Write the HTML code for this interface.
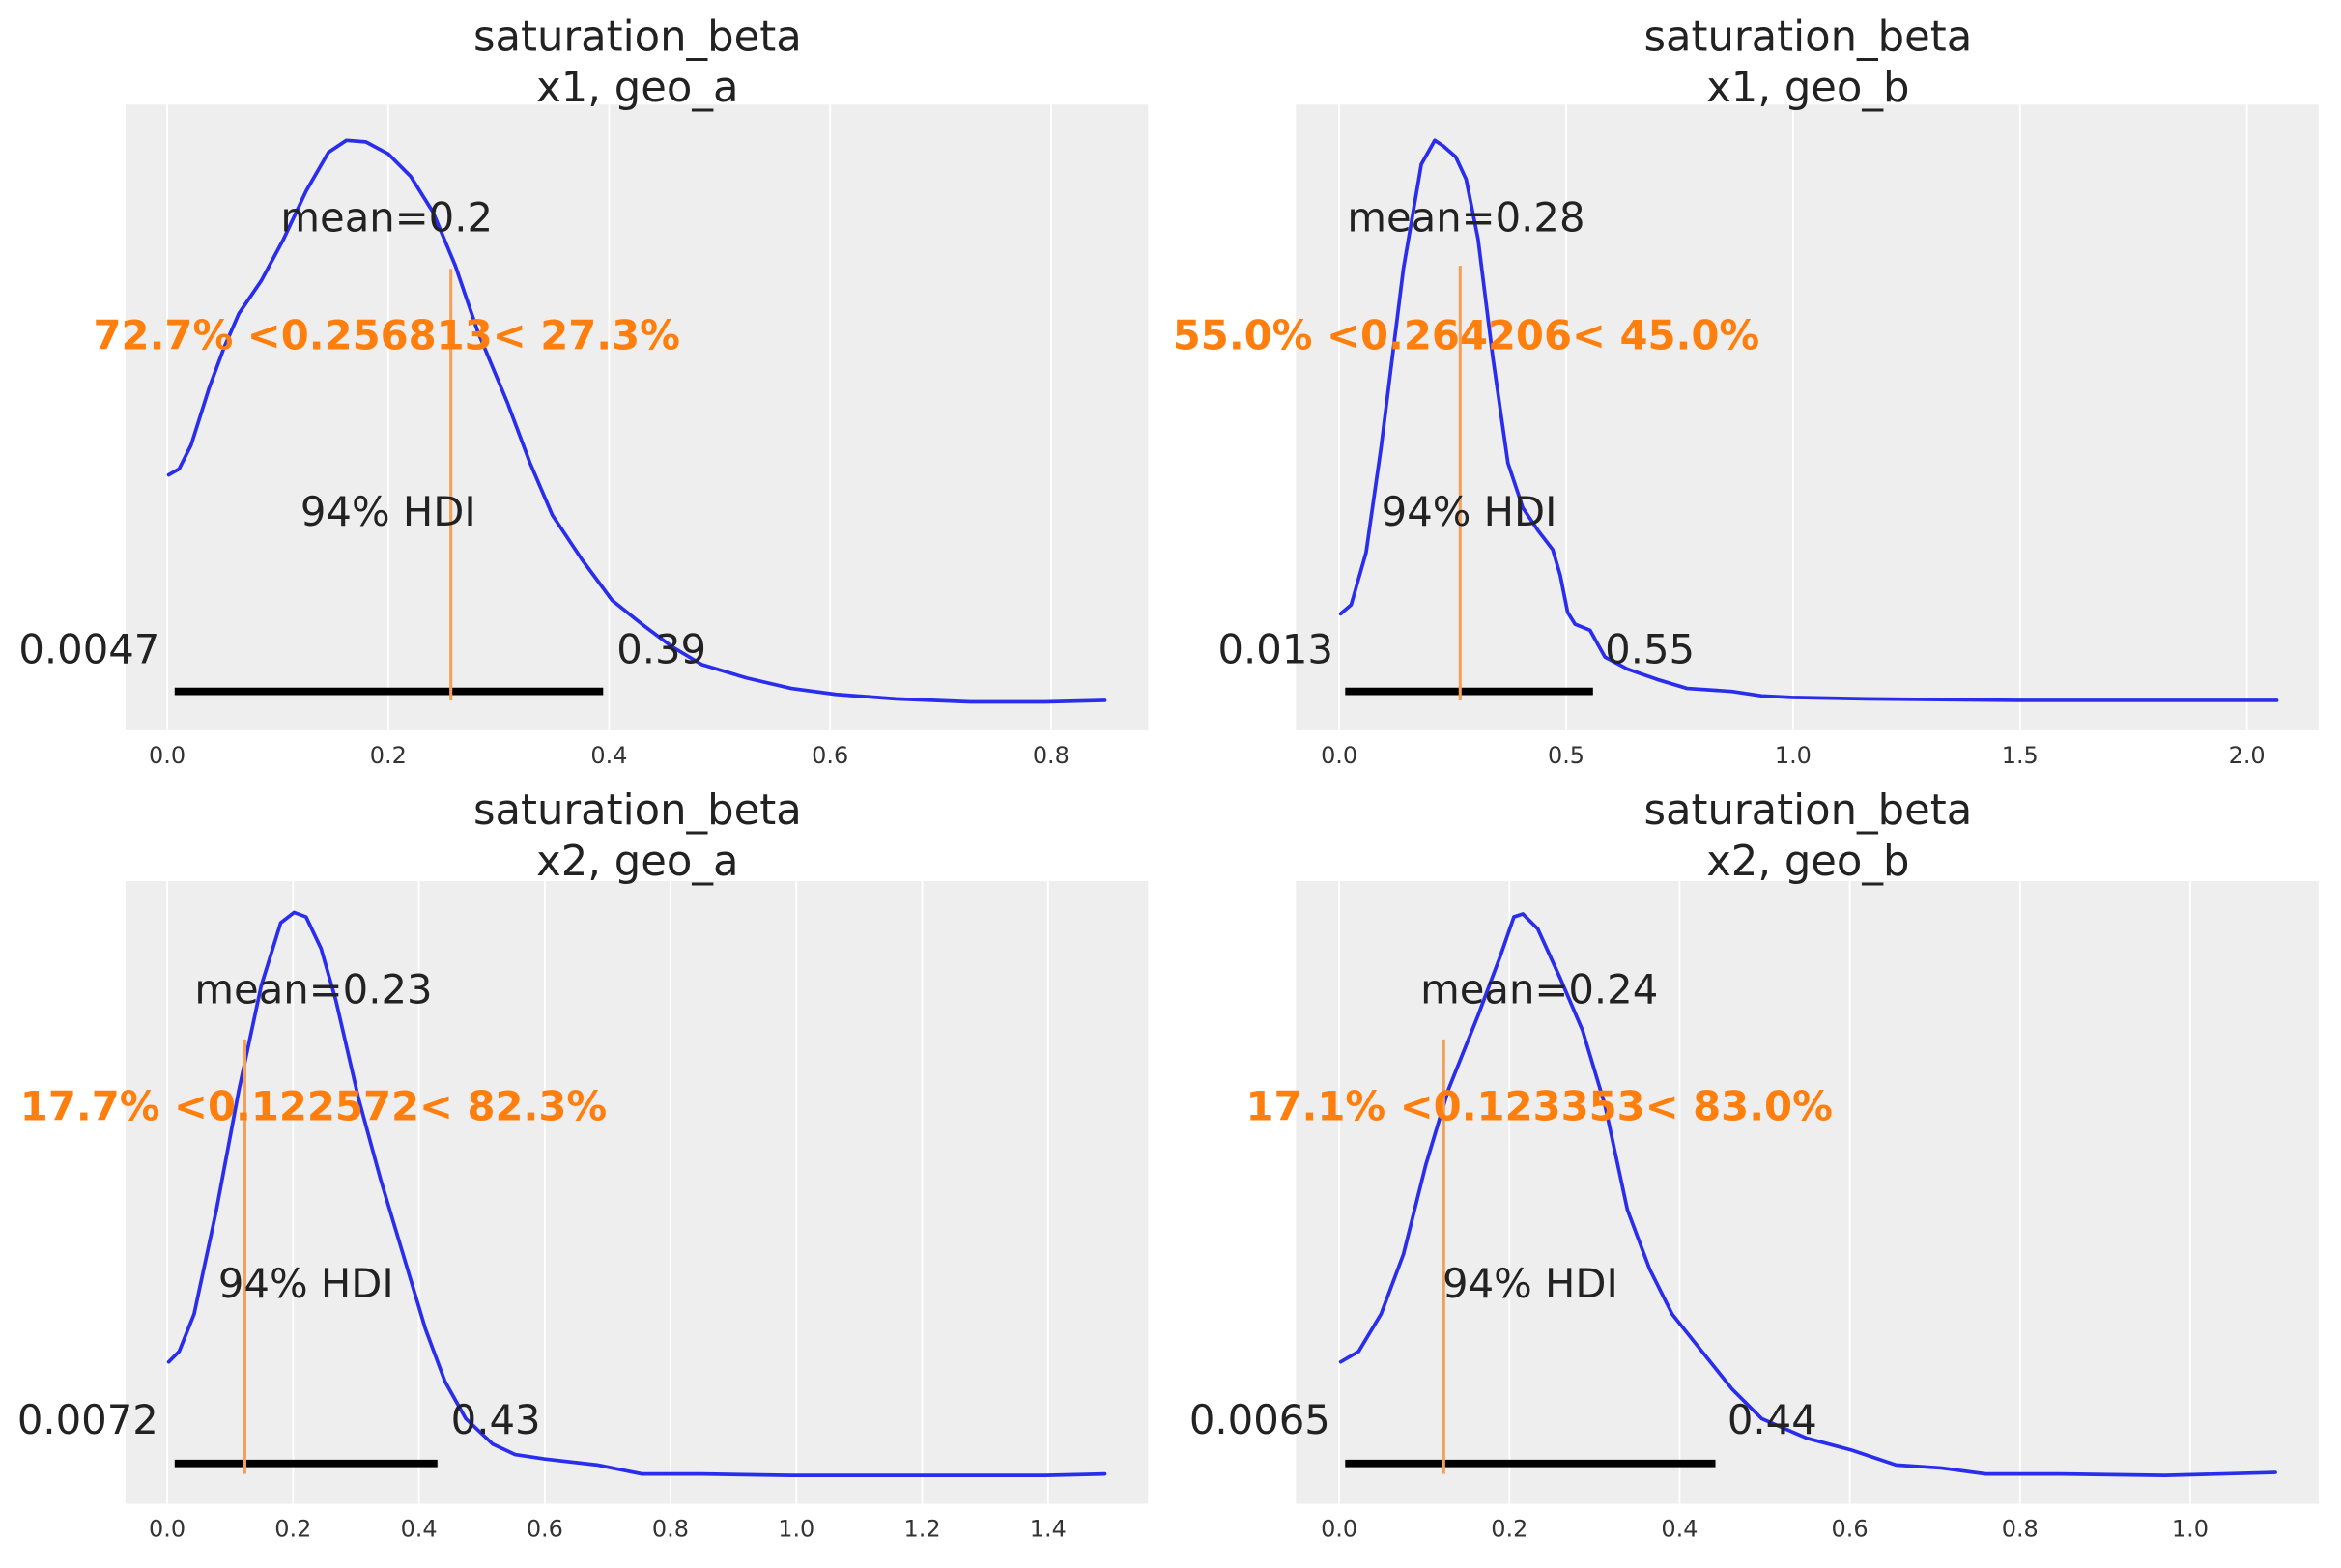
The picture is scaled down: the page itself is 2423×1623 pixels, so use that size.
<!DOCTYPE html>
<html><head><style>html,body{margin:0;padding:0;background:#fff}svg{display:block}</style></head><body>
<svg width="2423" height="1623" viewBox="0 0 1568 1050" preserveAspectRatio="none" xmlns="http://www.w3.org/2000/svg" font-family="DejaVu Sans, Liberation Sans, sans-serif">
<rect width="1568" height="1050" fill="#fff"/>
<g fill="#eeeeee"><rect x="84" y="70" width="685" height="419"/><rect x="868" y="70" width="685" height="419"/><rect x="84" y="590" width="685" height="417"/><rect x="868" y="590" width="685" height="417"/></g>
<g stroke="#fff" stroke-width="1.2">
<path d="M112 70V489M260 70V489M408 70V489M556 70V489M704 70V489"/>
<path d="M897 70V489M1049 70V489M1201 70V489M1353 70V489M1505 70V489"/>
<path d="M112 590V1007M196.3 590V1007M280.6 590V1007M364.9 590V1007M449.1 590V1007M533.4 590V1007M617.7 590V1007M702 590V1007"/>
<path d="M897 590V1007M1011 590V1007M1125 590V1007M1239 590V1007M1353 590V1007M1467 590V1007"/>
</g>
<g font-size="15.5" fill="#333" text-anchor="middle">
<text x="112" y="511">0.0</text><text x="260" y="511">0.2</text><text x="408" y="511">0.4</text><text x="556" y="511">0.6</text><text x="704" y="511">0.8</text>
<text x="897" y="511">0.0</text><text x="1049" y="511">0.5</text><text x="1201" y="511">1.0</text><text x="1353" y="511">1.5</text><text x="1505" y="511">2.0</text>
<text x="112" y="1029">0.0</text><text x="196.3" y="1029">0.2</text><text x="280.6" y="1029">0.4</text><text x="364.9" y="1029">0.6</text><text x="449.1" y="1029">0.8</text><text x="533.4" y="1029">1.0</text><text x="617.7" y="1029">1.2</text><text x="702" y="1029">1.4</text>
<text x="897" y="1029">0.0</text><text x="1011" y="1029">0.2</text><text x="1125" y="1029">0.4</text><text x="1239" y="1029">0.6</text><text x="1353" y="1029">0.8</text><text x="1467" y="1029">1.0</text>
</g>
<g font-size="28" fill="#222" text-anchor="middle">
<text x="427" y="34">saturation_beta</text><text x="427" y="68">x1, geo_a</text>
<text x="1211" y="34">saturation_beta</text><text x="1211" y="68">x1, geo_b</text>
<text x="427" y="552">saturation_beta</text><text x="427" y="586">x2, geo_a</text>
<text x="1211" y="552">saturation_beta</text><text x="1211" y="586">x2, geo_b</text>
</g>
<g fill="none" stroke="#2a2eec" stroke-width="2.4" stroke-linejoin="round" stroke-linecap="round">
<polyline points="113,318 120,314 128,298 140,260 150,233 160,210 175,188 190,160 205,128 220,102 232,94 245,95 260,103 275,118 290,142 305,178 320,222 340,270 355,310 370,345 390,375 410,402 430,418 450,433 470,445 500,454 530,461 560,465 600,468 650,470 700,470 740,469"/>
<polyline points="898,411 905,405 915,370 925,300 940,180 952,110 961,94 967,98 975,105 982,120 990,160 1000,240 1010,310 1020,340 1030,355 1040,368 1045,385 1050,410 1055,418 1065,422 1075,440 1090,448 1110,455 1130,461 1160,463 1180,466 1200,467 1250,468 1350,469 1450,469 1525,469"/>
<polyline points="113,912 120,905 130,880 145,810 160,730 175,660 188,618 197,611 205,614 215,635 225,670 240,735 255,790 270,840 285,890 298,925 312,950 330,967 345,974 365,977 400,981 430,987 470,987 530,988 600,988 700,988 740,987"/>
<polyline points="898,912 910,905 925,880 940,840 955,780 970,730 990,680 1005,640 1014,614 1020,612 1030,622 1045,655 1060,690 1075,740 1090,810 1105,850 1120,880 1140,905 1160,930 1180,950 1210,963 1240,971 1270,981 1300,983 1330,987 1380,987 1450,988 1524,986"/>
</g>
<g stroke="#000" stroke-width="5">
<path d="M117 463H404M901 463H1067M117 980H293M901 980H1149"/>
</g>
<g stroke="#f2a05a" stroke-width="2">
<path d="M302 180V469M978 178V469M164 696V987M967 696V987"/>
</g>
<g font-size="27" fill="#222">
<text x="259" y="155" text-anchor="middle">mean=0.2</text>
<text x="260" y="352" text-anchor="middle">94% HDI</text>
<text x="107" y="444" text-anchor="end">0.0047</text><text x="413" y="444">0.39</text>
<text x="982" y="155" text-anchor="middle">mean=0.28</text>
<text x="984" y="352" text-anchor="middle">94% HDI</text>
<text x="893" y="444" text-anchor="end">0.013</text><text x="1075" y="444">0.55</text>
<text x="210" y="672" text-anchor="middle">mean=0.23</text>
<text x="205" y="869" text-anchor="middle">94% HDI</text>
<text x="106" y="960" text-anchor="end">0.0072</text><text x="302" y="960">0.43</text>
<text x="1031" y="672" text-anchor="middle">mean=0.24</text>
<text x="1025" y="869" text-anchor="middle">94% HDI</text>
<text x="891" y="960" text-anchor="end">0.0065</text><text x="1157" y="960">0.44</text>
</g>
<g font-size="27" fill="#ff7f0e" font-weight="bold" text-anchor="middle">
<text x="259" y="234">72.7% &lt;0.256813&lt; 27.3%</text>
<text x="982" y="234">55.0% &lt;0.264206&lt; 45.0%</text>
<text x="210" y="750">17.7% &lt;0.122572&lt; 82.3%</text>
<text x="1031" y="750">17.1% &lt;0.123353&lt; 83.0%</text>
</g>
</svg>
</body></html>
